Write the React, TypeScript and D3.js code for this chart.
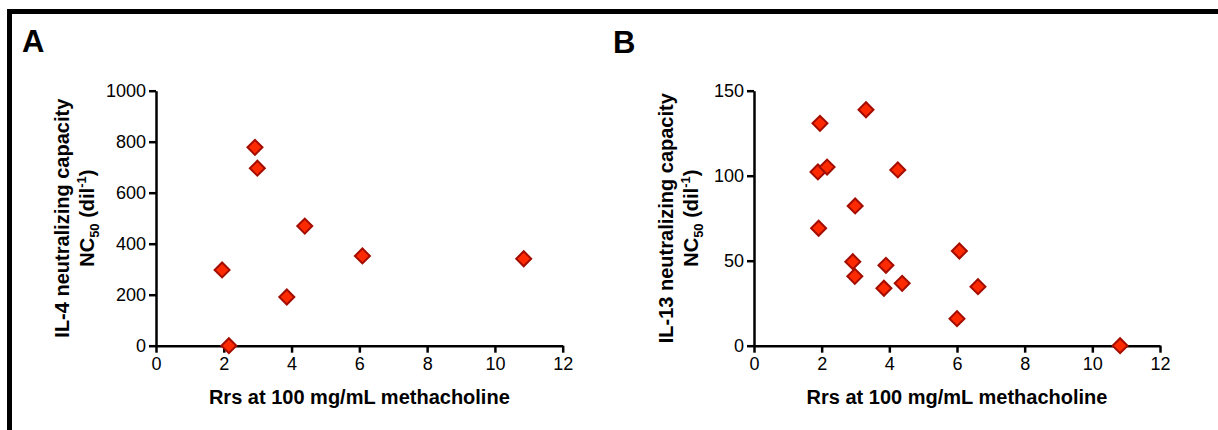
import React, { useEffect, useRef } from 'react';
import * as d3 from 'd3';

// Panel A: IL-4 neutralizing capacity vs Rrs
const il4Rrs = [2.92, 2.99, 4.39, 1.95, 3.86, 2.15, 6.09, 10.85];
const il4NC50 = [778, 696, 469, 297, 191, 0, 352, 341];

// Panel B: IL-13 neutralizing capacity vs Rrs
const il13Rrs = [1.95, 3.31, 1.89, 2.16, 4.25, 2.99, 1.91, 2.92, 2.98, 3.9, 3.84, 4.38, 6.07, 6.62, 6.0, 10.82];
const il13NC50 = [130.8, 138.8, 102.2, 105.1, 103.4, 82.2, 69.1, 49.4, 40.8, 47.3, 33.8, 36.7, 55.7, 34.7, 15.9, 0];

const xTicks = [0, 2, 4, 6, 8, 10, 12];
const il4Ticks = [0, 200, 400, 600, 800, 1000];
const il13Ticks = [0, 50, 100, 150];

const FONT = '"Liberation Sans", Arial, Helvetica, sans-serif';

interface PanelSpec {
  letter: string;
  letterX: number;
  letterY: number;
  left: number;
  right: number;
  labelOffset: number;
  protein: string;
  xs: number[];
  ys: number[];
  yMax: number;
  yTicks: number[];
}

const panels: PanelSpec[] = [
  { letter: 'A', letterX: 22, letterY: 52, left: 156, right: 562.7, labelOffset: 87, protein: 'IL-4', xs: il4Rrs, ys: il4NC50, yMax: 1000, yTicks: il4Ticks },
  { letter: 'B', letterX: 613, letterY: 53, left: 754, right: 1160, labelOffset: 81, protein: 'IL-13', xs: il13Rrs, ys: il13NC50, yMax: 150, yTicks: il13Ticks },
];

export default function App() {
  const svgRef = useRef<SVGSVGElement>(null);

  useEffect(() => {
    if (!svgRef.current) return;
    const svg = d3.select(svgRef.current);
    svg.selectAll('*').remove();

    const top = 90.7;
    const bottom = 345.7;

    // figure frame (only top & left visible in the crop)
    svg.append('rect')
      .attr('x', 9.5)
      .attr('y', 11.5)
      .attr('width', 1400)
      .attr('height', 800)
      .attr('fill', 'none')
      .attr('stroke', '#000')
      .attr('stroke-width', 5);

    panels.forEach(p => {
      const x = d3.scaleLinear().domain([0, 12]).range([p.left, p.right]);
      const y = d3.scaleLinear().domain([0, p.yMax]).range([bottom, top]);

      svg.append('text')
        .attr('x', p.letterX)
        .attr('y', p.letterY)
        .attr('font-family', FONT)
        .attr('font-weight', 'bold')
        .attr('font-size', 31)
        .text(p.letter);

      const xAxis = svg.append('g')
        .attr('transform', `translate(0,${bottom})`)
        .call(d3.axisBottom(x).tickValues(xTicks).tickFormat(d3.format('d')).tickSize(7).tickSizeOuter(0).tickPadding(5));
      const yAxis = svg.append('g')
        .attr('transform', `translate(${p.left},0)`)
        .call(d3.axisLeft(y).tickValues(p.yTicks).tickFormat(d3.format('d')).tickSize(7).tickSizeOuter(0).tickPadding(3));

      [xAxis, yAxis].forEach(a => {
        a.attr('font-family', FONT).attr('font-size', 18);
        a.selectAll('path, line').attr('stroke', '#000').attr('stroke-width', 2.5);
        a.selectAll('text').attr('fill', '#000');
      });

      // x title
      svg.append('text')
        .attr('x', (p.left + p.right) / 2)
        .attr('y', 404)
        .attr('text-anchor', 'middle')
        .attr('font-family', FONT)
        .attr('font-weight', 'bold')
        .attr('font-size', 20)
        .text('Rrs at 100 mg/mL methacholine');

      // y title, two lines
      const cy = (top + bottom) / 2;
      svg.append('text')
        .attr('transform', `translate(${p.left - p.labelOffset},${cy}) rotate(-90)`)
        .attr('text-anchor', 'middle')
        .attr('font-family', FONT)
        .attr('font-weight', 'bold')
        .attr('font-size', 20)
        .text(`${p.protein} neutralizing capacity`);

      const t2 = svg.append('text')
        .attr('transform', `translate(${p.left - p.labelOffset + 24.7},${cy}) rotate(-90)`)
        .attr('text-anchor', 'middle')
        .attr('font-family', FONT)
        .attr('font-weight', 'bold')
        .attr('font-size', 20);
      t2.append('tspan').text('NC');
      t2.append('tspan').attr('font-size', 13).attr('dy', 5).text('50');
      t2.append('tspan').attr('dy', -5).text(' (dil');
      t2.append('tspan').attr('font-size', 13).attr('dy', -8).text('-1');
      t2.append('tspan').attr('dy', 8).text(')');

      // diamonds
      const pts = p.xs.map((v, i) => [v, p.ys[i]]);
      svg.append('g')
        .selectAll('path')
        .data(pts)
        .enter()
        .append('path')
        .attr('d', d3.symbol().type(d3.symbolSquare).size(112))
        .attr('transform', d => `translate(${x(d[0])},${y(d[1])}) rotate(45)`)
        .attr('fill', '#ff2a00')
        .attr('stroke', '#a30d00')
        .attr('stroke-width', 2);
    });
  }, []);

  return (
    <svg
      ref={svgRef}
      width={1218}
      height={430}
      style={{ position: 'absolute', left: 0, top: 0, background: '#fff', overflow: 'hidden' }}
    />
  );
}
